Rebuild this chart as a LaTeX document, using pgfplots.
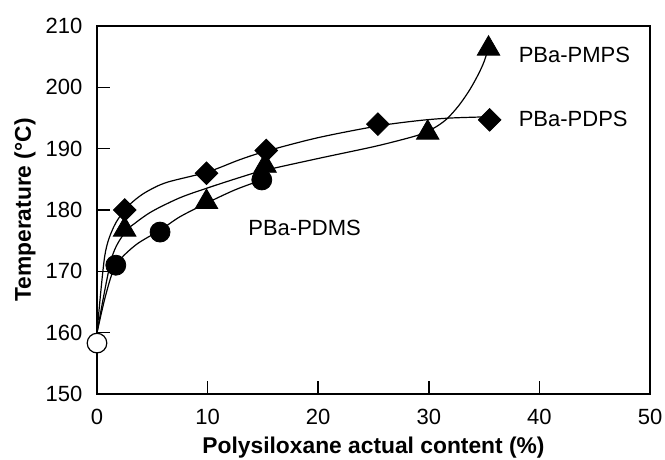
\documentclass[border=0pt]{standalone}
\usepackage{fontspec}
\setmainfont{Liberation Sans}
\usepackage{pgfplots}
\pgfplotsset{compat=1.18}
\usetikzlibrary{calc}
\begin{document}
\begin{tikzpicture}
\begin{axis}[
  name=ax,
  scale only axis,
  width=276.5pt, height=184pt,
  xmin=0, xmax=50, ymin=150, ymax=210,
  xtick={0,10,20,30,40,50},
  ytick={150,160,170,180,190,200,210},
  tick align=inside,
  xtick pos=bottom, ytick pos=left,
  major tick length=6.5pt,
  axis line style={line width=0.75pt},
  every tick/.style={black, line width=0.75pt},
  /pgf/number format/assume math mode=true,
  tick label style={font=\fontsize{11}{13}\selectfont},
  xticklabel style={yshift=-3.9pt},
  yticklabel style={xshift=-3.8pt},
  xlabel={\textbf{Polysiloxane actual content (\%)}},
  ylabel={\textbf{Temperature (°C)}},
  label style={font=\fontsize{11.4}{13}\selectfont},
  xlabel style={at={([yshift=-27pt]axis description cs:0.5,0)}, anchor=center},
  ylabel style={at={([xshift=-36pt]axis description cs:0,0.5)}, anchor=center},
  clip=false,
]
% fitted curves (traced)
\addplot[black, line width=0.6pt, smooth, tension=0.5] coordinates {
(0,160) (0.7,172.5) (1.5,177.2) (2.5,180) (3.4,181.6) (4.5,183.0) (6.3,184.5) (10,186.2) (12.9,188.2) (15.3,189.6) (20,191.8) (25.4,193.7) (29.2,194.6) (32,195.0) (35.5,195.2)};
\addplot[black, line width=0.6pt, smooth, tension=0.5] coordinates {
(0,160) (1.3,172) (2.5,176.3) (3.4,177.8) (5,179.8) (7.5,182.0) (10,183.6) (12.9,185.3) (15,186.4) (20,188.4) (24.7,190.2) (27,191.2) (29.2,192.3) (30.5,193.4) (31.6,194.8) (32.7,197) (33.7,199.6) (34.5,202.2) (35.0,204.2) (35.4,206.4)};
\addplot[black, line width=0.6pt, smooth, tension=0.5] coordinates {
(0,160) (0.8,166.2) (1.7,171) (3.5,174.3) (5.7,176.7) (7.5,178.9) (10,181.2) (12.5,183.3) (14.9,184.9)};
% markers
\addplot[only marks, mark=*, mark size=5pt, black] coordinates {(1.7,171) (5.7,176.4) (14.9,184.9)};
\addplot[only marks, mark=triangle*, mark size=6.5pt, black] coordinates {(2.5,176.8) (9.9,181.3) (15.2,187.2) (29.9,192.6) (35.4,206.3)};
\addplot[only marks, mark=square*, mark size=4pt, mark options={rotate=45}, black] coordinates {(2.5,180) (9.9,186) (15.3,189.7) (25.4,194) (35.5,194.7)};
\addplot[only marks, mark=*, mark size=4.9pt, mark options={draw=black, fill=white, line width=0.6pt}] coordinates {(0,158.3)};
\node[anchor=west, inner sep=0pt, font=\fontsize{11}{13}\selectfont] at (axis cs:38.1,205.3) {PBa-PMPS};
\node[anchor=west, inner sep=0pt, font=\fontsize{11}{13}\selectfont] at (axis cs:38.1,194.9) {PBa-PDPS};
\node[anchor=west, inner sep=0pt, font=\fontsize{11}{13}\selectfont] at (axis cs:13.65,177.0) {PBa-PDMS};
\end{axis}
\pgfresetboundingbox
\useasboundingbox ($(ax.south west)+(-48.5pt,-32.5pt)$) rectangle ($(ax.north east)+(7.5pt,13pt)$);
\end{tikzpicture}
\end{document}
